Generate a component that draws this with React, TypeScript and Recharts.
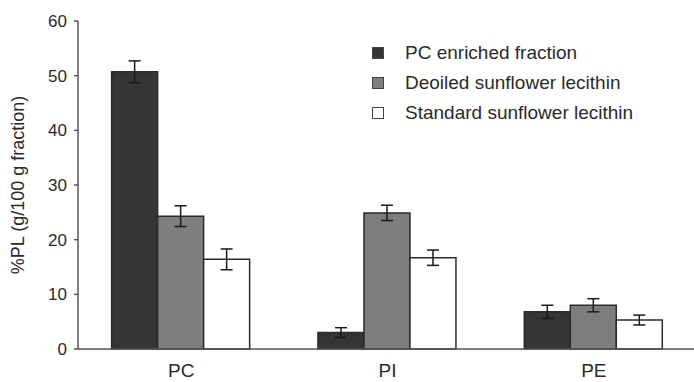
import { BarChart, Bar, XAxis, YAxis, ErrorBar } from "recharts"

const categories = ["PC", "PI", "PE"]
const enriched = [50.7, 3.0, 6.8]
const enrichedErr = [2.0, 0.9, 1.2]
const deoiled = [24.3, 24.9, 8.0]
const deoiledErr = [1.9, 1.4, 1.2]
const standard = [16.4, 16.7, 5.3]
const standardErr = [1.9, 1.4, 0.9]
const yTicks = [0, 10, 20, 30, 40, 50, 60]

const series = [
  { key: "enriched", err: "enrichedErr", name: "PC enriched fraction", color: "#353535" },
  { key: "deoiled", err: "deoiledErr", name: "Deoiled sunflower lecithin", color: "#7e7e7e" },
  { key: "standard", err: "standardErr", name: "Standard sunflower lecithin", color: "#ffffff" },
]

const data = categories.map((c, i) => ({
  name: c,
  enriched: enriched[i],
  enrichedErr: enrichedErr[i],
  deoiled: deoiled[i],
  deoiledErr: deoiledErr[i],
  standard: standard[i],
  standardErr: standardErr[i],
}))

const font = "Liberation Sans, Arial, sans-serif"

function LegendBox() {
  return (
    <div style={{ position: "absolute", left: 372, top: 38, fontFamily: font, fontSize: 19, color: "#2a2a2a" }}>
      {series.map((s) => (
        <div key={s.key} style={{ display: "flex", alignItems: "center", height: 30 }}>
          <span
            style={{
              display: "inline-block",
              width: 10,
              height: 10,
              background: s.color,
              border: "1px solid #444",
              marginRight: 21,
            }}
          />
          <span>{s.name}</span>
        </div>
      ))}
    </div>
  )
}

export default function App() {
  return (
    <div style={{ position: "absolute", left: 0, top: 0, width: 694, height: 382, overflow: "hidden", background: "#fff" }}>
      <BarChart
        width={698}
        height={382}
        data={data}
        margin={{ top: 21, right: 1, bottom: 0, left: 0 }}
        barCategoryGap="16.3%"
        barGap={0}
      >
        <XAxis
          dataKey="name"
          height={33}
          tickLine={false}
          tickSize={6}
          tickMargin={9}
          stroke="#555"
          strokeWidth={1.5}
          tick={{ fill: "#2a2a2a", fontSize: 19, fontFamily: font }}
        />
        <XAxis
          xAxisId="bounds"
          type="number"
          domain={[0, 3]}
          ticks={[1, 2]}
          height={0}
          axisLine={false}
          tick={false}
          tickSize={4}
          stroke="#555"
          strokeWidth={1.5}
          orientation="bottom"
        />
        <YAxis
          domain={[0, 60]}
          ticks={yTicks}
          width={78}
          tickSize={4}
          tickMargin={7}
          stroke="#555"
          strokeWidth={1.5}
          tick={{ fill: "#2a2a2a", fontSize: 17, fontFamily: font }}
          label={{
            value: "%PL (g/100 g fraction)",
            angle: -90,
            position: "center",
            dx: -21,
            style: { fill: "#2a2a2a", fontSize: 18, fontFamily: font },
          }}
        />
        {series.map((s) => (
          <Bar key={s.key} dataKey={s.key} name={s.name} fill={s.color} stroke="#2b2b2b" strokeWidth={1.5} isAnimationActive={false}>
            <ErrorBar dataKey={s.err} width={6} stroke="#1a1a1a" strokeWidth={1.5} />
          </Bar>
        ))}
      </BarChart>
      <LegendBox />
    </div>
  )
}
